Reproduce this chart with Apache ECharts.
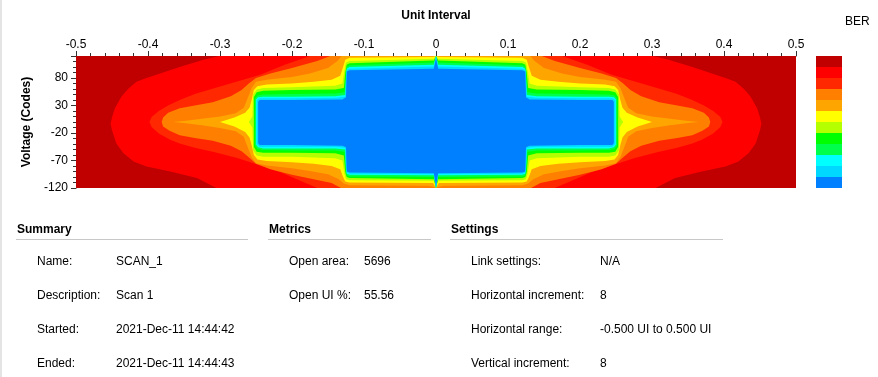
<!DOCTYPE html>
<html lang="en">
<head>
    <meta charset="UTF-8">
    <title>Eye Scan - SCAN_1</title>
    <script src="https://cdn.jsdelivr.net/npm/echarts@6/dist/echarts.min.js"></script>
    <style>
        html, body, #chart {
            width: 878px;
            height: 377px;
            padding: 0;
            margin: 0;
            background: #fff;
        }
    </style>
</head>
<body>
<div id="chart"></div>
<script>
    // BER colour levels, worst (outside) to best (eye centre)
    var berColors = ["#C00000", "#FF0000", "#FF2800", "#FF8000", "#FFA500", "#FFFF00",
        "#B4FF00", "#00FF00", "#00FF4C", "#00FFFF", "#00D8FF", "#0080FF"];

    // left half of each contour region (x in UI, y in codes), listed top to bottom.
    // the right half is the mirror image about x = 0
    var contour0 = [[-0.5, 120], [-0.5, -120]];
    var contour1 = [[-0.301, 120], [-0.323, 113], [-0.356, 100], [-0.379, 90], [-0.402, 80], [-0.416, 73],
        [-0.427, 61], [-0.437, 46], [-0.446, 25], [-0.450, 8], [-0.452, -3], [-0.450, -15], [-0.444, -39],
        [-0.434, -57], [-0.420, -72], [-0.402, -81], [-0.369, -90], [-0.332, -102], [-0.305, -120]];
    var contour2 = [[-0.175, 120], [-0.21, 104], [-0.244, 86], [-0.275, 74], [-0.307, 62], [-0.335, 51],
        [-0.356, 40], [-0.372, 30], [-0.385, 20], [-0.395, 9], [-0.398, 0], [-0.395, -9], [-0.385, -21],
        [-0.37, -32], [-0.356, -39], [-0.335, -47], [-0.307, -55], [-0.275, -66], [-0.244, -79],
        [-0.215, -92], [-0.19, -106], [-0.165, -120]];
    var contour3 = [[-0.147, 120], [-0.165, 111], [-0.2, 98], [-0.23, 88], [-0.25, 80], [-0.26, 70],
        [-0.27, 58], [-0.285, 47], [-0.31, 36], [-0.335, 30], [-0.356, 25], [-0.372, 17], [-0.379, 8],
        [-0.381, 0], [-0.379, -8], [-0.37, -16], [-0.356, -24], [-0.335, -29], [-0.31, -34], [-0.285, -43],
        [-0.27, -53], [-0.26, -64], [-0.25, -76], [-0.23, -86], [-0.2, -96], [-0.17, -104], [-0.145, -111],
        [-0.132, -120]];
    var contour4 = [[-0.131, 120], [-0.137, 111], [-0.15, 98], [-0.175, 88], [-0.2, 82], [-0.235, 77],
        [-0.25, 73], [-0.256, 62], [-0.262, 42], [-0.267, 26], [-0.278, 16], [-0.30, 10], [-0.325, 6],
        [-0.35, 2], [-0.365, 0], [-0.35, -2], [-0.325, -6], [-0.30, -11], [-0.278, -17], [-0.267, -27],
        [-0.262, -44], [-0.256, -64], [-0.25, -75], [-0.235, -79], [-0.2, -84], [-0.175, -89], [-0.15, -95],
        [-0.135, -104], [-0.128, -112], [-0.12, -115], [-0.01, -116], [-0.003, -118], [0, -120]];
    var contour5 = [[0, 120], [-0.004, 118], [-0.12, 117], [-0.126, 113], [-0.129, 100], [-0.133, 84],
        [-0.145, 77], [-0.17, 73], [-0.2, 70], [-0.235, 68], [-0.248, 65], [-0.253, 58], [-0.256, 40],
        [-0.259, 26], [-0.265, 17], [-0.28, 8], [-0.30, 0], [-0.28, -8], [-0.265, -18], [-0.259, -28],
        [-0.256, -42], [-0.253, -60], [-0.248, -68], [-0.235, -71], [-0.2, -73], [-0.17, -76], [-0.145, -80],
        [-0.133, -86], [-0.129, -100], [-0.126, -108], [-0.12, -110], [-0.004, -111], [0, -120]];
    var contour6 = [[0, 120], [-0.003, 115], [-0.12, 111], [-0.125, 108], [-0.127, 95], [-0.13, 70],
        [-0.14, 66], [-0.2, 63], [-0.24, 62], [-0.249, 59], [-0.254, 50], [-0.255, 10], [-0.26, 0],
        [-0.255, -10], [-0.254, -52], [-0.249, -61], [-0.24, -63], [-0.2, -63], [-0.14, -66], [-0.13, -70],
        [-0.127, -95], [-0.125, -104], [-0.12, -106], [-0.003, -107], [0, -120]];
    var contour7 = [[0, 120], [-0.003, 112], [-0.12, 107], [-0.124, 104], [-0.126, 90], [-0.128, 62],
        [-0.14, 59], [-0.2, 58], [-0.24, 57], [-0.249, 54], [-0.253, 45], [-0.253, -45], [-0.249, -54],
        [-0.24, -56], [-0.2, -56], [-0.14, -57], [-0.128, -61], [-0.126, -92], [-0.124, -100], [-0.12, -102],
        [-0.003, -104], [0, -120]];
    var contour8 = [[0, 120], [-0.003, 108], [-0.12, 103], [-0.124, 100], [-0.125, 85], [-0.127, 54],
        [-0.14, 52], [-0.2, 51], [-0.24, 50], [-0.248, 48], [-0.2515, 42], [-0.2515, -42], [-0.248, -49],
        [-0.24, -51], [-0.2, -52], [-0.14, -52], [-0.127, -54], [-0.125, -88], [-0.124, -97], [-0.12, -99],
        [-0.003, -100], [0, -120]];
    var contour9 = [[0, 120], [-0.003, 104], [-0.12, 100], [-0.124, 97], [-0.125, 80], [-0.126, 49],
        [-0.14, 47], [-0.2, 46], [-0.24, 46], [-0.247, 45], [-0.25, 41], [-0.25, -41], [-0.247, -46],
        [-0.24, -48], [-0.2, -48], [-0.14, -48], [-0.126, -50], [-0.125, -85], [-0.124, -94], [-0.12, -96],
        [-0.003, -97], [0, -120]];
    var contour10 = [[0, 120], [-0.003, 101], [-0.12, 97], [-0.124, 95], [-0.125, 75], [-0.126, 46],
        [-0.14, 44], [-0.2, 43], [-0.245, 43], [-0.249, 40], [-0.249, -40], [-0.245, -45], [-0.2, -45],
        [-0.14, -45], [-0.126, -47], [-0.125, -80], [-0.124, -92], [-0.12, -94], [-0.003, -95], [0, -120]];
    var contour11 = [[0, 116], [-0.003, 97], [-0.12, 94], [-0.124, 92], [-0.125, 45], [-0.13, 41],
        [-0.2, 40], [-0.245, 40], [-0.247, 37], [-0.247, -38], [-0.245, -42], [-0.2, -42], [-0.13, -43],
        [-0.125, -46], [-0.124, -90], [-0.12, -92], [-0.003, -93], [0, -116]];
    var contours = [contour0, contour1, contour2, contour3, contour4, contour5,
        contour6, contour7, contour8, contour9, contour10, contour11];

    // report tables under the plot
    var summaryRows = [["Name:", "SCAN_1"], ["Description:", "Scan 1"],
        ["Started:", "2021-Dec-11 14:44:42"], ["Ended:", "2021-Dec-11 14:44:43"]];
    var metricRows = [["Open area:", "5696"], ["Open UI %:", "55.56"]];
    var settingRows = [["Link settings:", "N/A"], ["Horizontal increment:", "8"],
        ["Horizontal range:", "-0.500 UI to 0.500 UI"], ["Vertical increment:", "8"]];

    var FONT = '"Liberation Sans", Arial, sans-serif';

    function renderContour(params, api) {
        var half = contours[api.value(0)];
        var pts = [];
        for (var i = 0; i < half.length; i++) {
            pts.push(api.coord(half[i]));
        }
        for (var j = half.length - 1; j >= 0; j--) {
            pts.push(api.coord([-half[j][0], half[j][1]]));
        }
        return {
            type: "polygon",
            shape: {points: pts},
            style: {fill: api.visual("color"), stroke: null}
        };
    }

    function section(title, x0, x1, labelX, valueX, rows) {
        var els = [{
            type: "text", x: x0 + 1, y: 230,
            style: {text: title, fill: "#000", font: "bold 12px " + FONT, verticalAlign: "middle"}
        }, {
            type: "line", shape: {x1: x0, y1: 239.5, x2: x1, y2: 239.5},
            style: {stroke: "#c8c8c8", lineWidth: 1}
        }];
        rows.forEach(function (r, i) {
            var y = 262 + i * 34;
            els.push({type: "text", x: labelX, y: y,
                style: {text: r[0], fill: "#000", font: "12px " + FONT, verticalAlign: "middle"}});
            els.push({type: "text", x: valueX, y: y,
                style: {text: r[1], fill: "#000", font: "12px " + FONT, verticalAlign: "middle"}});
        });
        return els;
    }

    var myChart = echarts.init(document.getElementById("chart"));

    myChart.setOption({
        animation: false,
        textStyle: {fontFamily: FONT},
        title: {
            text: "BER",
            left: 840,
            top: 11,
            textStyle: {fontSize: 12, fontWeight: "normal", color: "#000"}
        },
        grid: {left: 76, top: 56, right: 82, bottom: 189},
        xAxis: {
            type: "value",
            position: "top",
            min: -0.5,
            max: 0.5,
            interval: 0.1,
            name: "Unit Interval",
            nameLocation: "middle",
            nameGap: 34,
            nameTextStyle: {fontSize: 12, fontWeight: "bold", color: "#000"},
            axisLine: {show: true, onZero: false, lineStyle: {color: "#333"}},
            axisTick: {show: true, length: 5, lineStyle: {color: "#333"}},
            minorTick: {show: true, splitNumber: 5, length: 3, lineStyle: {color: "#333"}},
            axisLabel: {fontSize: 12, color: "#000", margin: 5},
            splitLine: {show: false}
        },
        yAxis: {
            type: "value",
            min: -120,
            max: 120,
            interval: 50,
            name: "Voltage (Codes)",
            nameLocation: "middle",
            nameGap: 42,
            nameTextStyle: {fontSize: 12, fontWeight: "bold", color: "#000"},
            axisLine: {show: true, onZero: false, lineStyle: {color: "#333"}},
            axisTick: {show: true, length: 5, lineStyle: {color: "#333"}},
            minorTick: {show: true, splitNumber: 5, length: 3, lineStyle: {color: "#333"}},
            axisLabel: {fontSize: 12, color: "#000", margin: 8, showMaxLabel: false},
            splitLine: {show: false}
        },
        visualMap: {
            type: "piecewise",
            dimension: 0,
            seriesIndex: 0,
            pieces: berColors.map(function (c, i) {
                return {value: i, color: c};
            }),
            orient: "vertical",
            inverse: true,
            left: 816,
            top: 56,
            padding: 0,
            itemWidth: 26,
            itemHeight: 11,
            itemGap: 0,
            itemSymbol: "rect",
            showLabel: false,
            selectedMode: false,
            hoverLink: false
        },
        graphic: [{
            type: "rect", shape: {x: 0, y: 0, width: 2, height: 377},
            style: {fill: "#e4e4e4"}, silent: true
        }].concat(
            section("Summary", 16, 248, 37, 116, summaryRows),
            section("Metrics", 268, 431, 289, 364, metricRows),
            section("Settings", 450, 723, 471, 600, settingRows)
        ),
        series: [{
            type: "custom",
            silent: true,
            clip: true,
            renderItem: renderContour,
            data: contours.map(function (c, i) {
                return [i];
            })
        }]
    });
</script>
</body>
</html>
